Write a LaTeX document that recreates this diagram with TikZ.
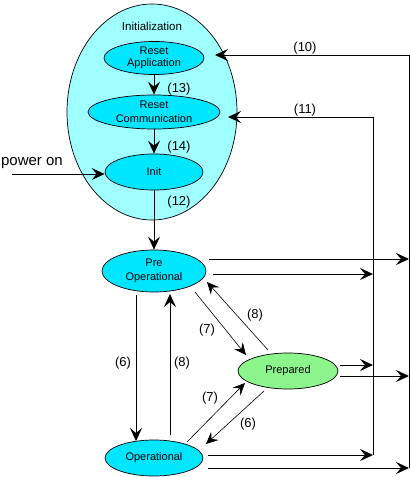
\documentclass[tikz,border=0pt]{standalone}
\usepackage{fontspec}
\setmainfont{Liberation Sans}
\usetikzlibrary{shapes.geometric,arrows.meta,calc}
\definecolor{bigcyan}{RGB}{160,255,255}
\definecolor{statecyan}{RGB}{0,230,255}
\definecolor{prepgreen}{RGB}{140,245,140}
\tikzset{
  st/.style={ellipse,draw,line width=0.7pt,fill=statecyan,inner sep=0pt,align=center,
    font=\fontsize{11}{14}\selectfont},
  lbl/.style={inner sep=0pt,font=\fontsize{13}{15}\selectfont},
  ln/.style={line width=0.9pt},
  arr/.style={line width=0.9pt,-{Stealth[length=13pt,width=12pt,inset=5pt]}},
  tarr/.style={line width=0.6pt,-{Stealth[length=12pt,width=11pt,inset=4.5pt]}}
}
\begin{document}
\begin{tikzpicture}[x=1pt,y=-1pt]
\useasboundingbox (0,0) rectangle (410,477);
% Initialization superstate
\node[ellipse,draw,line width=0.7pt,fill=bigcyan,minimum width=170pt,minimum height=216pt,inner sep=0pt] (big) at (152,112) {};
\node[inner sep=0pt,font=\fontsize{11.5}{13}\selectfont] (inittitle) at (152,26) {Initialization};
\node[st,minimum width=100pt,minimum height=33pt,font=\fontsize{11}{12}\selectfont] (ra) at (154,58) {Reset\\Application};
\node[st,minimum width=132pt,minimum height=34pt] (rc) at (154,112) {Reset\\Communication};
\node[st,minimum width=98pt,minimum height=36pt] (init) at (154,172) {Init};
% main states
\node[st,minimum width=104pt,minimum height=42pt] (preop) at (154,271) {Pre\\Operational};
\node[st,minimum width=98pt,minimum height=36pt] (op) at (154,458) {Operational};
\node[st,fill=prepgreen,minimum width=100pt,minimum height=36pt] (prep) at (288,371) {Prepared};
% power on
\node[inner sep=0pt,font=\fontsize{15}{17}\selectfont] (pw) at (32,163) {power on};
\coordinate (pwstart) at (12,174);
\draw[arr] (pwstart) -- (pwstart -| init.west);
% init chain
\draw[arr] (ra) -- (rc);
\draw[arr] (rc) -- (init);
\draw[arr] (init) -- (preop);
\node[lbl] (l13) at (179,89) {(13)};
\node[lbl] (l14) at (179,147) {(14)};
\node[lbl] (l12) at (179,202) {(12)};
% PreOp <-> Op
\draw[arr] ($(preop)+(-18,24)$) -- ($(op)+(-18,-17)$);
\draw[arr] ($(op)+(16,-23)$) -- ($(preop)+(16,23)$);
\node[lbl] (l6a) at (123,363) {(6)};
\node[lbl] (l8a) at (182,363) {(8)};
% diagonals
\draw[tarr] ($(preop)+(41,21)$) -- ($(prep)+(-42,-16)$);
\draw[tarr] ($(prep)+(-20,-21)$) -- ($(preop)+(53,11)$);
\draw[tarr] ($(op)+(33,-16)$) -- ($(prep)+(-43,12)$);
\draw[tarr] ($(prep)+(-24,20)$) -- ($(op)+(52,-14)$);
\node[lbl] (l7a) at (207,330) {(7)};
\node[lbl] (l8b) at (255,315) {(8)};
\node[lbl] (l7b) at (210,398) {(7)};
\node[lbl] (l6b) at (248,424) {(6)};
% buses
\coordinate (aTop) at (409,55);
\coordinate (aBot) at (409,468);
\coordinate (bTop) at (373,117);
\coordinate (bBot) at (373,455);
\draw[ln] (aTop) -- (aBot);
\draw[ln] (bTop) -- (bBot);
\draw[arr] (aTop) -- ($(big)+(63,-57)$);
\draw[arr] (bTop) -- ($(big)+(76,5)$);
\node[lbl] (l10) at (305,48) {(10)};
\node[lbl] (l11) at (305,110) {(11)};
% horizontal arrows to buses
\coordinate (s1) at ($(preop)+(55,-12)$);
\coordinate (s2) at ($(preop)+(59,3)$);
\coordinate (s3) at ($(prep)+(52,-6)$);
\coordinate (s4) at ($(prep)+(52,5)$);
\coordinate (s5) at ($(op)+(54,-3)$);
\coordinate (s6) at ($(op)+(54,10)$);
\draw[arr] (s1) -- (s1 -| aTop);
\draw[arr] (s2) -- (s2 -| bTop);
\draw[arr] (s3) -- (s3 -| bTop);
\draw[arr] (s4) -- (s4 -| aTop);
\draw[arr] (s5) -- (bBot);
\draw[arr] (s6) -- (aBot);
\end{tikzpicture}
\end{document}
